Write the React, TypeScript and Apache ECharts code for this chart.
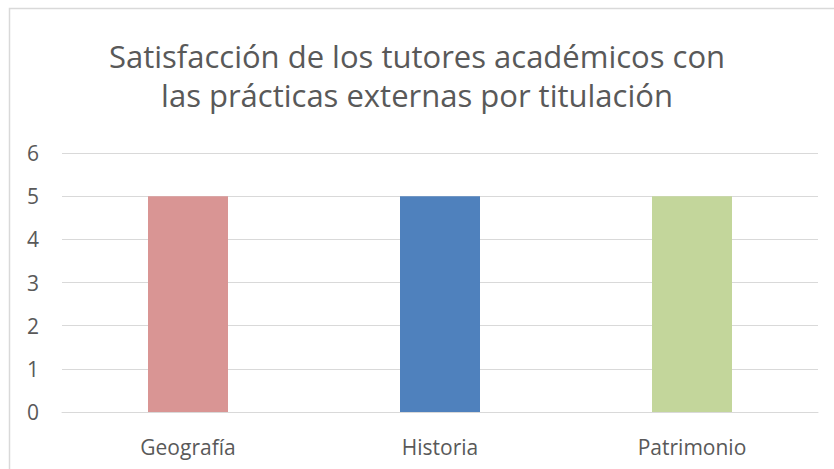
import React, { useEffect, useRef } from "react";
import * as echarts from "echarts";

const categories = ["Geografía", "Historia", "Patrimonio"];
const values = [5, 5, 5];
const barColors = ["#D99594", "#4F81BD", "#C3D69B"];
const yTicks = { min: 0, max: 6, interval: 1 };
const titleText = "Satisfacción de los tutores académicos con\nlas prácticas externas por titulación";

export default function App() {
  const ref = useRef<HTMLDivElement>(null);
  useEffect(() => {
    if (!ref.current) return;
    const chart = echarts.init(ref.current, null, { renderer: "svg" });
    chart.setOption({
      animation: false,
      backgroundColor: "#ffffff",
      textStyle: { fontFamily: "Open Sans" },
      graphic: [
        {
          type: "rect",
          shape: { x: 9.5, y: 8.5, width: 900, height: 600 },
          style: { fill: "none", stroke: "#d9d9d9", lineWidth: 1.5 },
          silent: true,
        },
      ],
      title: {
        text: titleText,
        left: "center",
        top: 31,
        textStyle: {
          fontFamily: "Open Sans",
          fontSize: 31,
          fontWeight: "normal",
          color: "#595959",
          lineHeight: 39,
        },
      },
      grid: { left: 62, right: 16, top: 153, bottom: 57, containLabel: false },
      xAxis: {
        type: "category",
        data: categories,
        axisLine: { show: true, lineStyle: { color: "#d9d9d9", width: 1 } },
        axisTick: { show: false },
        axisLabel: { color: "#595959", fontSize: 21, margin: 24, fontFamily: "Open Sans" },
      },
      yAxis: {
        type: "value",
        min: yTicks.min,
        max: yTicks.max,
        interval: yTicks.interval,
        axisLine: { show: false },
        axisTick: { show: false },
        axisLabel: { color: "#595959", fontSize: 21, margin: 23, fontFamily: "Open Sans" },
        splitLine: { lineStyle: { color: "#d9d9d9", width: 1 } },
      },
      series: [
        {
          type: "bar",
          barWidth: 80,
          data: values.map((v, i) => ({ value: v, itemStyle: { color: barColors[i] } })),
        },
      ],
    });
    return () => chart.dispose();
  }, []);
  return <div ref={ref} style={{ width: 834, height: 469, position: "absolute", left: 0, top: 0 }} />;
}
